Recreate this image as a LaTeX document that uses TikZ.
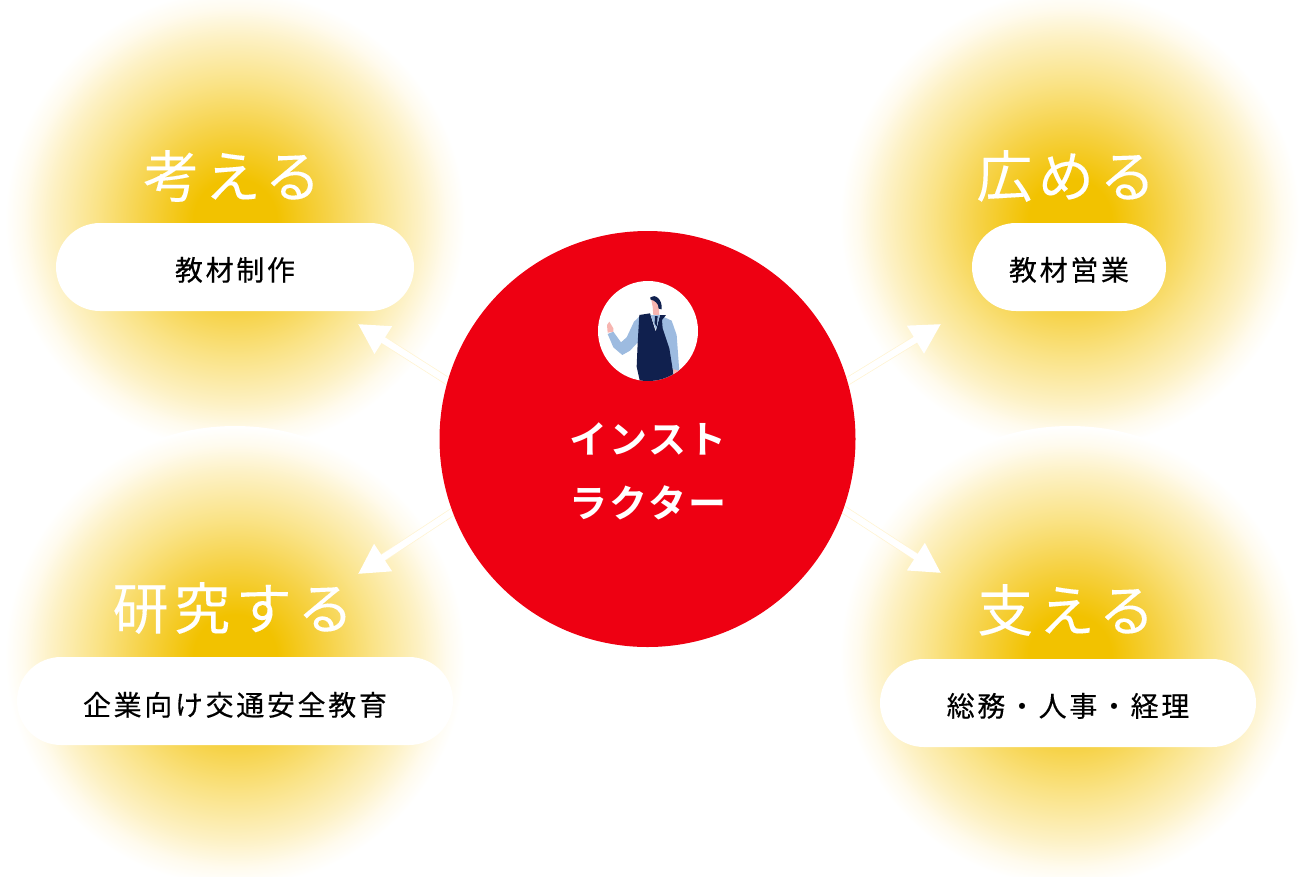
\documentclass[tikz,border=0pt]{standalone}
\usepackage{fontspec}
\usetikzlibrary{arrows.meta}
\newfontfamily\headfont[LetterSpace=10,FakeBold=0.12]{Noto Sans CJK JP}
\newfontfamily\labelfont[LetterSpace=9.5,FakeBold=0.25]{Noto Sans CJK JP}
\newfontfamily\hubfont[LetterSpace=5,BoldFont={Noto Sans CJK JP Bold}]{Noto Sans CJK JP}
\definecolor{glowA}{HTML}{F2C200}
\definecolor{glowB}{HTML}{F6D246}
\definecolor{glowC}{HTML}{FAE387}
\definecolor{glowD}{HTML}{FDF1C4}
\definecolor{glowE}{HTML}{FFFBEE}
\definecolor{hubred}{HTML}{EE0012}
\definecolor{navy}{HTML}{10204E}
\definecolor{shirt}{HTML}{9DBBE0}
\definecolor{skin}{HTML}{F7B5B0}
\definecolor{linkedge}{HTML}{FFF4D2}
\pgfdeclareradialshading{glow}{\pgfpoint{0bp}{0bp}}{
 color(0bp)=(glowA); color(4.5bp)=(glowA); color(10bp)=(glowB); color(15bp)=(glowC);
 color(20bp)=(glowD); color(23bp)=(glowE); color(25bp)=(white); color(100bp)=(white)}
\newcommand{\pilltext}[2]{\smash{\raisebox{#1}{#2}}}
\tikzset{
 glowdisc/.style={shading=glow, draw=none},
 pill/.style={fill=white, draw=none, rounded corners=44pt, minimum height=88pt, inner sep=0pt, font=\labelfont\fontsize{28}{28}\selectfont, text=black},
 heading/.style={text=white, inner sep=0pt, font=\headfont\fontsize{56}{56}\selectfont},
 linkrim/.style={draw=linkedge, line width=8pt, shorten >=24pt},
 link/.style={draw=white, fill=white, line width=6.5pt, -{Triangle[length=30pt,width=31pt,fill=white,color=white]}},
 hubtext/.style={text=white, inner sep=0pt, font=\hubfont\bfseries\fontsize{38}{38}\selectfont},
}
\begin{document}
\begin{tikzpicture}[x=1pt,y=-1pt]
\useasboundingbox (0,0) rectangle (1300,876);
\begin{scope}
\clip (0,0) rectangle (1300,876);
\path[glowdisc] (235,220) circle (230);
\path[glowdisc] (1070,220) circle (230);
\path[glowdisc] (235,656) circle (230);
\path[glowdisc] (1070,656) circle (230);
\end{scope}
% pills
\node[pill, minimum width=358pt] (p1) at (235,267) {\pilltext{-13.5pt}{教材制作}};
\node[pill, minimum width=194pt] (p2) at (1069,267) {\pilltext{-13.5pt}{教材営業}};
\node[pill, minimum width=436pt] (p3) at (235,701) {\pilltext{-14.5pt}{企業向け交通安全教育}};
\node[pill, minimum width=376pt] (p4) at (1068,703) {\pilltext{-13.5pt}{総務・人事・経理}};
% headings
\node[heading] (h1) at (232,176) {考える};
\node[heading] (h2) at (1066,176) {広める};
\node[heading] (h3) at (233,608) {研究する};
\node[heading] (h4) at (1066,610) {支える};
% connector ends
\coordinate (s1) at (460,389); \coordinate (t1) at (358,324);
\coordinate (s2) at (835,389); \coordinate (t2) at (941,324);
\coordinate (s3) at (460,507); \coordinate (t3) at (358,574);
\coordinate (s4) at (835,504); \coordinate (t4) at (941,573);
\draw[linkrim] (s1) -- (t1);
\draw[linkrim] (s2) -- (t2);
\draw[linkrim] (s3) -- (t3);
\draw[linkrim] (s4) -- (t4);
\draw[link] (s1) -- (t1);
\draw[link] (s2) -- (t2);
\draw[link] (s3) -- (t3);
\draw[link] (s4) -- (t4);
% hub
\node[circle, fill=hubred, minimum size=416pt, inner sep=0pt] (hub) at (647.5,439) {};
\node[circle, fill=white, minimum size=100pt, inner sep=0pt] (portrait) at (648,331) {};
\begin{scope}
\clip (648,331) circle (50);
\begin{scope}[shift={(560,260)}, x=0.3333pt, y=-0.3333pt]
 % shirt sleeves
 \fill[shirt] (238,170) -- (222,185) -- (200,232) -- (183,247) -- (160,215) -- (143,222) -- (160,262) -- (187,285) -- (210,272) -- (240,240) -- cycle;
 \fill[shirt] (305,168) -- (335,182) -- (350,225) -- (358,335) -- (340,335) -- (325,270) -- (305,210) -- cycle;
 \fill[skin] (143,218) -- (141,195) -- (148,185) -- (160,205) -- (160,215) -- cycle;
 \fill[skin] (340,328) -- (356,332) -- (350,350) -- (342,345) -- cycle;
 % neck / face
 \fill[skin] (273,115) -- (296,130) -- (298,165) -- (280,165) -- (278,140) -- cycle;
 % hair
 \fill[navy] (271,112) .. controls (285,100) and (308,118) .. (305,148) -- (296,146) .. controls (296,130) and (285,122) .. (271,118) -- cycle;
 % vest
 \fill[navy] (238,165) -- (270,160) -- (287,215) -- (300,165) -- (318,165) -- (306,180) -- (308,205) -- (328,265) -- (340,340) -- (330,365) -- (240,365) -- (230,320) -- (233,250) -- cycle;
 \fill[shirt] (272,165) -- (300,165) -- (288,210) -- cycle;
 \fill[navy] (285,168) -- (293,168) -- (290,200) -- (284,190) -- cycle;
\end{scope}
\end{scope}
\node[hubtext] (l1) at (648,439) {インスト};
\node[hubtext] (l2) at (648,503) {ラクター};
\end{tikzpicture}
\end{document}
